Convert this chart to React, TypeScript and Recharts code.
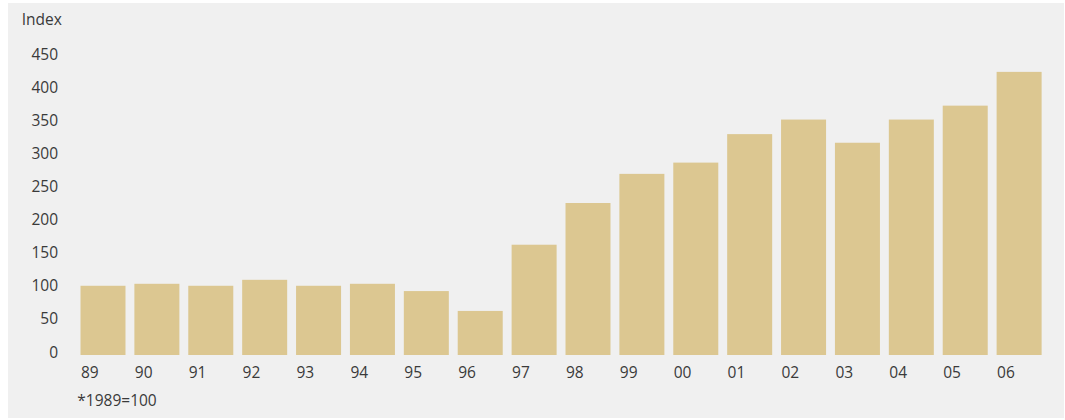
import React from "react";
import { BarChart, Bar, XAxis, YAxis, Customized } from "recharts";

// Index of the annual figures, 1989 = 100
const years = ["89", "90", "91", "92", "93", "94", "95", "96", "97", "98", "99", "00", "01", "02", "03", "04", "05", "06"];
const indexValues = [100, 103, 100, 109, 100, 103, 92, 62, 162, 225, 269, 286, 329, 351, 316, 351, 372, 423];
const yTicks = [0, 50, 100, 150, 200, 250, 300, 350, 400, 450];

const data = years.map((year, i) => ({ year, value: indexValues[i] }));

const BAR_COLOR = "#dcc791";
const TEXT_COLOR = "#3a3a3a";
const FONT = "'Open Sans', 'Noto Sans', sans-serif";
const FONT_SIZE = 15.5;

const YTick = (p: any) => (
  <text x={50} y={p.y} dy="0.355em" textAnchor="end" fill={TEXT_COLOR} fontFamily={FONT} fontSize={FONT_SIZE}>
    {p.payload.value}
  </text>
);

const XTick = (p: any) => (
  <text x={p.x - 22.5} y={p.y + 20} dy="0.355em" textAnchor="start" fill={TEXT_COLOR} fontFamily={FONT} fontSize={FONT_SIZE}>
    {p.payload.value}
  </text>
);

// bars sit slightly below the zero line
const BarShape = (p: any) => (
  <rect x={p.x} y={p.y} width={p.width} height={Math.max(0, p.height) + 3} fill={BAR_COLOR} />
);

export default function App() {
  return (
    <div style={{ position: "absolute", left: 8, top: 3, width: 1056, height: 415, background: "#f0f0f0" }}>
      <BarChart
        width={1056}
        height={415}
        data={data}
        margin={{ top: 51, right: 17.5, bottom: 36, left: 0 }}
        barSize={45}
      >
        <YAxis
          domain={[0, 450]}
          ticks={yTicks}
          axisLine={false}
          tickLine={false}
          width={68.5}
          tick={YTick}
          interval={0}
        />
        <XAxis
          dataKey="year"
          axisLine={false}
          tickLine={false}
          tickSize={0}
          tickMargin={0}
          height={30}
          tick={XTick}
          interval={0}
        />
        <Bar dataKey="value" isAnimationActive={false} shape={BarShape} />
        <Customized
          component={() => (
            <g fontFamily={FONT} fontSize={FONT_SIZE} fill={TEXT_COLOR}>
              <text x={13.7} y={16} dy="0.355em">Index</text>
              <text x={69.3} y={397.7} dy="0.355em">*1989=100</text>
            </g>
          )}
        />
      </BarChart>
    </div>
  );
}
